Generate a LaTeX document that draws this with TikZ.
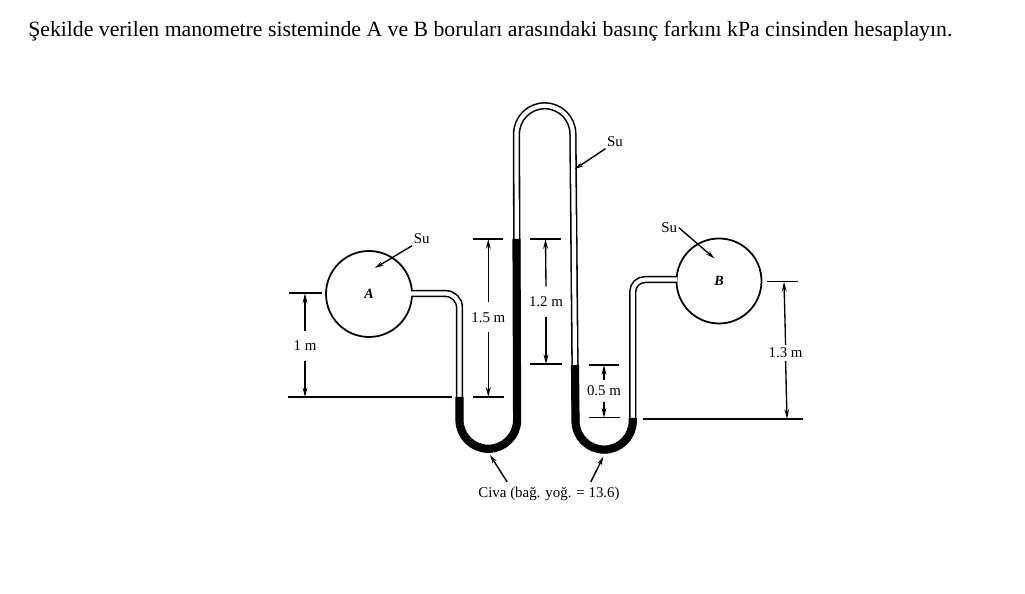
\documentclass[tikz,border=0pt]{standalone}
\usepackage{fontspec}
\setmainfont{Liberation Serif}
\usetikzlibrary{arrows.meta}
\tikzset{
    tube/.style={line width=1.1pt,double=white,double distance=3pt},
    civa/.style={line width=5.8pt},
    tank/.style={circle,draw,line width=1.25pt,minimum size=#1,inner sep=0,font=\fontsize{10}{12}\selectfont\bfseries\itshape},
    tick/.style={line width=1.15pt},
    dimline/.style={line width=.95pt,-{Stealth[length=7pt,width=3.4pt]}},
    leader/.style={line width=1pt,-{Stealth[length=6pt,width=3.2pt]}},
    dimlabel/.style={inner xsep=0,text height=7pt,text depth=0pt,font=\fontsize{10.6}{12}\selectfont},
    name label/.style={inner sep=1pt,font=\fontsize{10.6}{12}\selectfont}
}
\begin{document}
\begin{tikzpicture}
    \useasboundingbox (0,0) rectangle (25.625,14.85);
    \node [anchor=west,inner sep=0,font=\fontsize{15.47}{18}\selectfont] (title) at (.7,14.07)
        {Şekilde verilen manometre sisteminde A ve B boruları arasındaki basınç farkını kPa cinsinden hesaplayın.};

    \node [tank=2.15cm] (tankA) at (9.225,7.5) {A};
    \node [tank=2.125cm] (tankB) at (17.975,7.825) {B};

    % tube
    \draw [tube] (10.275,7.5125) -- (11.1375,7.5125) arc [start angle=90,end angle=0,radius=.35]
        -- (11.4875,4.35) arc [start angle=180,end angle=360,radius=.72]
        -- (12.9125,11.5) arc [start angle=180,end angle=0,radius=.705]
        -- (14.3875,4.325) arc [start angle=180,end angle=360,radius=.716]
        -- (15.82,7.56) arc [start angle=180,end angle=90,radius=.3] -- (16.93,7.86);
    % mercury
    \draw [civa] (11.4875,4.925) -- (11.4875,4.35) arc [start angle=180,end angle=360,radius=.72] -- (12.9125,8.875);
    \draw [civa] (14.375,5.725) -- (14.3875,4.325) arc [start angle=180,end angle=360,radius=.716] -- (15.82,4.4);

    % ticks
    \foreach \xa/\xb/\y in {7.2325/8.0425/7.5175,7.2/11.2925/4.9175,11.8325/12.575/8.875,11.8325/12.6075/4.925,
        13.25/14.0175/8.875,13.25/14.05/5.7425,14.725/15.475/5.725,14.7325/15.5/4.4075,
        19.175/19.95/7.8075,16.0675/20.075/4.375} {\draw [tick] (\xa,\y) -- (\xb,\y);}

    % heights
    \foreach \name/\x/\y in {oneTop/7.625/7.5175,oneBot/7.625/4.9175,oneHalfTop/12.2075/8.875,oneHalfBot/12.2075/4.925,
        oneTwoTop/13.6375/8.875,oneTwoBot/13.65/5.7425,halfTop/15.1/5.725,halfBot/15.1/4.4075,
        oneThreeTop/19.6/7.8075,oneThreeBot/19.675/4.375} {\coordinate (\name) at (\x,\y);}
    \node [dimlabel,inner ysep=7pt] (oneM) at (7.625,6.2075) {1 m};
    \node [dimlabel,inner ysep=7pt] (oneHalfM) at (12.2075,6.9175) {1.5 m};
    \node [dimlabel,inner ysep=7pt] (oneTwoM) at (13.65,7.3075) {1.2 m};
    \node [dimlabel,inner ysep=3.9pt] (halfM) at (15.1,5.075) {0.5 m};
    \node [dimlabel,inner ysep=2.1pt] (oneThreeM) at (19.64,6.025) {1.3 m};
    \foreach \lab/\top/\bot in {oneM/oneTop/oneBot,oneHalfM/oneHalfTop/oneHalfBot,oneTwoM/oneTwoTop/oneTwoBot,
        halfM/halfTop/halfBot,oneThreeM/oneThreeTop/oneThreeBot} {
        \draw [dimline] (\lab.north) -- (\top);
        \draw [dimline] (\lab.south) -- (\bot);
    }

    % labels
    \coordinate (suATip) at (9.375,8.15);
    \coordinate (suMidTip) at (14.375,10.625);
    \coordinate (suBTip) at (17.8575,8.3925);
    \coordinate (civaLeftTip) at (12.25,3.475);
    \coordinate (civaRightTip) at (15.0825,3.4325);
    \node [name label] (suA) at (10.5425,8.875) {Su};
    \node [name label] (suMid) at (15.375,11.3) {Su};
    \node [name label] (suB) at (16.7325,9.1575) {Su};
    \node [name label,inner ysep=3.5pt] (civaLabel) at (13.725,2.5) {Civa (bağ. yoğ. = 13.6)};
    \draw [leader] (suA.south west) -- (suATip);
    \draw [leader] (suMid.south west) -- (suMidTip);
    \draw [leader] (suB.east) -- (suBTip);
    \draw [leader] (civaLabel.164) -- (civaLeftTip);
    \draw [leader] (civaLabel.16) -- (civaRightTip);
\end{tikzpicture}
\end{document}
